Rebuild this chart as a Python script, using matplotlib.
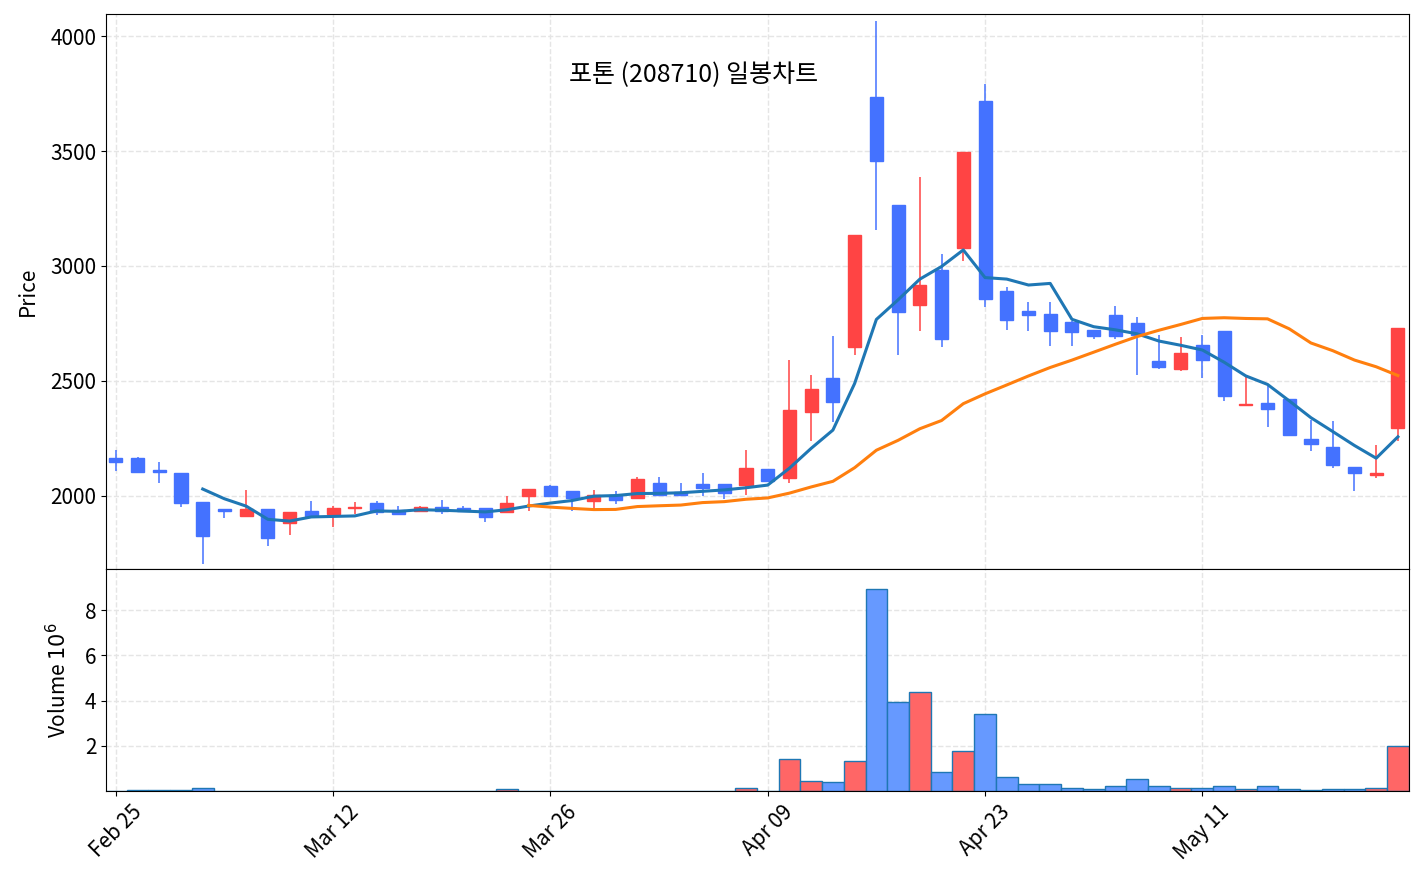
"""Daily candlestick chart with moving averages and volume."""
import numpy as np
import matplotlib
matplotlib.use("Agg")
from matplotlib import pyplot as plt

plt.rcParams['font.family'] = ['Noto Sans CJK KR', 'DejaVu Sans']
plt.rcParams['axes.unicode_minus'] = False

# daily OHLC (KRW)
opens = [2164, 2164, 2110, 2099, 1974, 1940, 1912, 1942, 1881, 1933,
         1920, 1946, 1968, 1938, 1932, 1953, 1946, 1945, 1930, 2000,
         2044, 2019, 1978, 2003, 1990, 2055, 2017, 2051, 2051, 2047,
         2116, 2077, 2366, 2514, 2649, 3734, 3266, 2832, 2981, 3078,
         3716, 2891, 2804, 2790, 2755, 2722, 2787, 2751, 2587, 2552,
         2654, 2719, 2395, 2404, 2423, 2248, 2213, 2126, 2092, 2296]
highs = [2200, 2170, 2148, 2099, 1974, 1942, 2026, 1942, 1930, 1978,
         1956, 1971, 1976, 1956, 1955, 1983, 1955, 1945, 1997, 2029,
         2048, 2019, 2026, 2020, 2083, 2080, 2054, 2100, 2051, 2200,
         2116, 2592, 2525, 2695, 3134, 4066, 3266, 3387, 3050, 3495,
         3792, 2910, 2842, 2845, 2760, 2722, 2826, 2778, 2700, 2691,
         2699, 2719, 2516, 2484, 2423, 2329, 2325, 2126, 2220, 2730]
lows = [2106, 2097, 2054, 1953, 1701, 1901, 1912, 1782, 1831, 1913,
        1862, 1920, 1917, 1920, 1932, 1920, 1935, 1884, 1930, 1932,
        2000, 1932, 1932, 1966, 1990, 2004, 2003, 2000, 1987, 2004,
        2062, 2054, 2239, 2320, 2613, 3155, 2613, 2718, 2649, 3022,
        2823, 2722, 2717, 2652, 2652, 2683, 2683, 2526, 2552, 2541,
        2513, 2413, 2395, 2300, 2264, 2194, 2122, 2020, 2078, 2238]
closes = [2147, 2102, 2105, 1968, 1823, 1935, 1942, 1818, 1930, 1913,
          1946, 1953, 1927, 1920, 1949, 1935, 1935, 1908, 1968, 2029,
          2000, 1990, 2003, 1981, 2073, 2004, 2003, 2034, 2012, 2120,
          2062, 2371, 2466, 2409, 3134, 3456, 2798, 2916, 2684, 3495,
          2854, 2765, 2787, 2719, 2714, 2693, 2697, 2700, 2562, 2622,
          2590, 2432, 2401, 2377, 2264, 2223, 2132, 2097, 2100, 2730]
# volume in millions of shares
volumes = [0.03, 0.07, 0.07, 0.07, 0.13, 0.03, 0.03, 0.03, 0.03, 0.03,
           0.03, 0.03, 0.01, 0.01, 0.01, 0.01, 0.03, 0.03, 0.09, 0.02,
           0.03, 0.02, 0.03, 0.02, 0.02, 0.02, 0.01, 0.03, 0.01, 0.12,
           0.02, 1.44, 0.43, 0.385, 1.32, 8.95, 3.93, 4.37, 0.83, 1.79,
           3.41, 0.64, 0.30, 0.30, 0.15, 0.10, 0.25, 0.52, 0.25, 0.15,
           0.15, 0.25, 0.10, 0.25, 0.10, 0.06, 0.10, 0.10, 0.15, 1.99]

tick_positions = [0, 10, 20, 30, 40, 50]
tick_labels = ["Feb 25", "Mar 12", "Mar 26", "Apr 09", "Apr 23", "May 11"]
title = "포톤 (208710) 일봉차트"

o = np.array(opens, dtype=float)
h = np.array(highs, dtype=float)
l = np.array(lows, dtype=float)
c = np.array(closes, dtype=float)
v = np.array(volumes, dtype=float)
x = np.arange(len(c))
up = c >= o

ma5 = np.convolve(c, np.ones(5) / 5, mode="valid")
ma20 = np.convolve(c, np.ones(20) / 20, mode="valid")

UP = "#ff4444"
DOWN = "#4472ff"

fig = plt.figure(figsize=(14.23, 8.84), dpi=100)
gs = fig.add_gridspec(2, 1, height_ratios=[2.49, 1], hspace=0,
                      left=0.0745, right=0.990, top=0.984, bottom=0.105)
ax = fig.add_subplot(gs[0])
ax_v = fig.add_subplot(gs[1], sharex=ax)

# candles
colors = np.where(up, UP, DOWN)
ax.vlines(x, l, h, colors=colors, linewidth=1.1, zorder=2)
ax.bar(x, np.abs(c - o), bottom=np.minimum(o, c), width=0.6,
       color=colors, edgecolor=colors, linewidth=1, zorder=3)
ax.plot(x[4:], ma5, color="#1f77b4", linewidth=2.2, zorder=4)
ax.plot(x[19:], ma20, color="#ff7f0e", linewidth=2.2, zorder=4)

ax.set_ylabel("Price", fontsize=15, labelpad=8)
ax.set_ylim(1683, 4096)
ax.set_yticks([2000, 2500, 3000, 3500, 4000])
ax.grid(True, linestyle="--", color="#e5e5e5", linewidth=1)
ax.set_axisbelow(True)
ax.tick_params(labelbottom=False, labelsize=15)
ax.text(0.451, 0.89, title, transform=ax.transAxes, ha="center", va="center",
        fontsize=18)

# volume
vcolors = np.where(up, "#ff6666", "#6699ff")
ax_v.bar(x, v, width=1.0, color=vcolors, edgecolor="#1f77b4", linewidth=1)
ax_v.set_ylim(0, v.max() * 1.1)
ax_v.set_yticks([2, 4, 6, 8])
ax_v.set_ylabel(r"Volume $10^6$", fontsize=15, labelpad=9.5)
ax_v.grid(True, linestyle="--", color="#e5e5e5", linewidth=1)
ax_v.set_axisbelow(True)
ax_v.tick_params(axis="y", labelsize=15)

ax_v.set_xlim(-0.45, 59.5)
ax_v.set_xticks(tick_positions)
ax_v.set_xticklabels(tick_labels, rotation=45, fontsize=15)

fig.savefig("out.png", dpi=100)
